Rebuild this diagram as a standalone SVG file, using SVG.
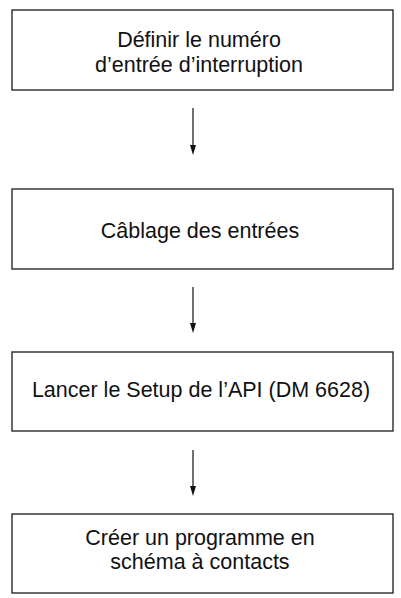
<svg xmlns="http://www.w3.org/2000/svg" width="401" height="598" viewBox="0 0 401 598">
<defs>
<marker id="ah" markerWidth="10" markerHeight="6" refX="0" refY="3" orient="auto" markerUnits="userSpaceOnUse" viewBox="0 0 10 6">
<path d="M0,0 L10,3 L0,6 Z" fill="#111"/>
</marker>
</defs>
<style>
.box{fill:#fff;stroke:#2a2a2a;stroke-width:1.4}
.t{font-family:"Liberation Sans",Arial,sans-serif;font-size:21.5px;fill:#111;text-anchor:middle}
.c{stroke:#111;stroke-width:1.2;fill:none}
</style>
<rect width="401" height="598" fill="#fff"/>
<g id="node1">
<rect class="box" x="12" y="10" width="381" height="80"/>
<text class="t" x="199" y="47">Définir le numéro</text>
<text class="t" x="199" y="72">d’entrée d’interruption</text>
</g>
<g id="node2">
<rect class="box" x="12" y="189" width="381" height="80"/>
<text class="t" x="200" y="238">Câblage des entrées</text>
</g>
<g id="node3">
<rect class="box" x="12" y="352" width="381" height="79"/>
<text class="t" x="201" y="397">Lancer le Setup de l’API (DM 6628)</text>
</g>
<g id="node4">
<rect class="box" x="12" y="514" width="381" height="79"/>
<text class="t" x="200" y="545">Créer un programme en</text>
<text class="t" x="200" y="569">schéma à contacts</text>
</g>
<g id="connectors">
<path class="c" d="M193,108 V145" marker-end="url(#ah)"/>
<path class="c" d="M193,287 V323" marker-end="url(#ah)"/>
<path class="c" d="M193,450 V486" marker-end="url(#ah)"/>
</g>
</svg>
